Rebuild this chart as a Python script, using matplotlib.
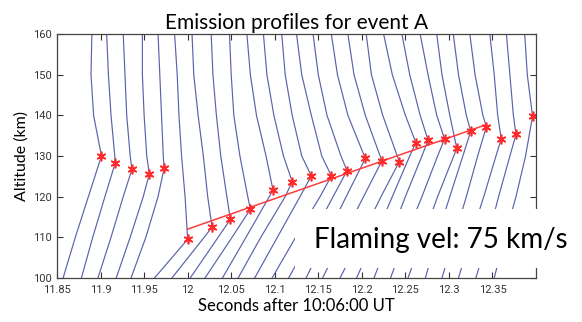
import numpy as np
import matplotlib.pyplot as plt
from matplotlib import font_manager
from matplotlib.patches import Rectangle

nan = np.nan

# altitude levels (km) where each emission profile was sampled
alt_grid = [160, 150, 140, 130, 120, 110, 100]

# horizontal position (s) of each profile at those levels, one row per frame
# (nan where the emission peak sits right at that level)
profile_t = [
    [11.890, 11.889, 11.892, nan, 11.886, 11.871, 11.857],
    [11.907, 11.909, 11.912, nan, 11.905, 11.891, 11.878],
    [11.926, 11.928, 11.930, 11.934, 11.926, 11.912, 11.897],
    [11.948, 11.948, 11.950, 11.953, 11.949, 11.934, 11.918],
    [11.966, 11.968, 11.970, 11.972, 11.966, 11.952, 11.935],
    [11.985, 11.988, 11.990, 11.993, 11.997, nan, 11.962],
    [12.005, 12.007, 12.012, 12.018, 12.023, 12.019, 11.982],
    [12.027, 12.029, 12.033, 12.038, 12.045, 12.035, 12.003],
    [12.048, 12.050, 12.053, 12.060, 12.069, 12.051, 12.020],
    [12.068, 12.072, 12.079, 12.090, nan, 12.067, 12.040],
    [12.087, 12.091, 12.099, 12.110, 12.112, 12.084, 12.058],
    [12.108, 12.112, 12.120, 12.131, 12.129, 12.103, 12.077],
    [12.125, 12.131, 12.142, 12.154, 12.152, 12.124, 12.097],
    [12.144, 12.150, 12.160, 12.176, 12.167, 12.142, 12.116],
    [12.165, 12.172, 12.184, nan, 12.182, 12.159, 12.136],
    [12.184, 12.191, 12.204, nan, 12.202, 12.178, 12.155],
    [12.205, 12.211, 12.224, nan, 12.222, 12.199, 12.175],
    [12.225, 12.235, 12.250, 12.255, 12.235, 12.215, 12.194],
    [12.246, 12.255, 12.267, 12.269, 12.250, 12.232, 12.214],
    [12.267, 12.276, 12.286, 12.287, 12.269, 12.250, 12.233],
    [12.286, 12.292, 12.301, nan, 12.287, 12.270, 12.253],
    [12.305, 12.311, 12.320, 12.316, 12.301, 12.286, 12.273],
    [12.324, 12.330, 12.339, 12.333, 12.320, 12.306, 12.292],
    [12.347, 12.352, 12.356, 12.354, 12.340, 12.325, 12.311],
    [12.366, 12.370, 12.374, 12.370, 12.357, 12.345, 12.331],
    [12.387, 12.390, nan, 12.388, 12.377, 12.364, 12.352],
]

# emission peak of each profile
peak_t = [11.901, 11.917, 11.936, 11.956, 11.973, 12.000, 12.028, 12.049,
          12.072, 12.098, 12.120, 12.142, 12.165, 12.183, 12.204, 12.223,
          12.243, 12.262, 12.276, 12.295, 12.309, 12.325, 12.343, 12.360,
          12.377, 12.396]
peak_alt = [130.0, 128.4, 126.7, 125.6, 127.0, 109.5, 112.5, 114.4, 116.9,
            121.6, 123.7, 125.1, 125.1, 126.4, 129.4, 128.8, 128.6, 133.3,
            133.9, 134.2, 131.9, 136.1, 137.2, 134.2, 135.3, 139.8]

# flaming front fit
vel = 75          # km/s
fit_t0, fit_t1 = 12.0, 12.343
fit_alt0 = 112.0

xticks = [11.85, 11.9, 11.95, 12, 12.05, 12.1, 12.15, 12.2, 12.25, 12.3, 12.35]
xticklabels = ['11.85', '11.9', '11.95', '12', '12.05', '12.1', '12.15',
               '12.2', '12.25', '12.3', '12.35']
yticks = [100, 110, 120, 130, 140, 150, 160]

plt.rcParams['font.family'] = ['Lato', 'DejaVu Sans']
installed = {f.name for f in font_manager.fontManager.ttflist}
tick_font = 'Liberation Sans Narrow' if 'Liberation Sans Narrow' in installed else 'Roboto'

fig = plt.figure(figsize=(5.82, 3.22), dpi=100)
ax = fig.add_axes([0.098, 0.137, 0.823, 0.757])

for i, row in enumerate(profile_t):
    pts = [(a, t) for a, t in zip(alt_grid, row) if not np.isnan(t)]
    pts.append((peak_alt[i], peak_t[i]))
    pts.sort(reverse=True)
    ax.plot([p[1] for p in pts], [p[0] for p in pts],
            color='#4652a0', lw=0.85, alpha=0.9)

fit_t = np.array([fit_t0, fit_t1])
ax.plot(fit_t, fit_alt0 + vel * (fit_t - fit_t0), color='#ff3b3b', lw=1.1)
ax.plot(peak_t, peak_alt, ls='none', marker=(6, 2, 0), ms=7, mew=1.2,
        color='#ff2a2a')

ax.set_xlim(11.85, 12.4)
ax.set_ylim(100, 160)
ax.set_xticks(xticks)
ax.set_xticklabels(xticklabels)
ax.set_yticks(yticks)
ax.tick_params(direction='in', top=True, right=True, length=4, width=0.8,
               labelsize=8, colors='#333333')
ax.tick_params(axis='x', pad=5)
ax.tick_params(axis='y', pad=4)
for lab in ax.get_xticklabels() + ax.get_yticklabels():
    lab.set_family(tick_font)
for s in ax.spines.values():
    s.set_color('#444444')
    s.set_linewidth(0.9)

ax.set_title('Emission profiles for event A', fontsize=15, pad=4)
ax.set_xlabel('Seconds after 10:06:00 UT', fontsize=12, labelpad=2)
ax.set_ylabel('Altitude (km)', fontsize=11.5, labelpad=3)

# white label box laid over the lower right of the plot
box = Rectangle((0.507, 0.168), 0.49, 0.183, transform=fig.transFigure,
                facecolor='white', edgecolor='none', zorder=5)
fig.add_artist(box)
fig.text(0.54, 0.255, 'Flaming vel: %d km/s' % vel, fontsize=20,
         va='center', ha='left', zorder=6)

fig.savefig('out.png', dpi=100)
